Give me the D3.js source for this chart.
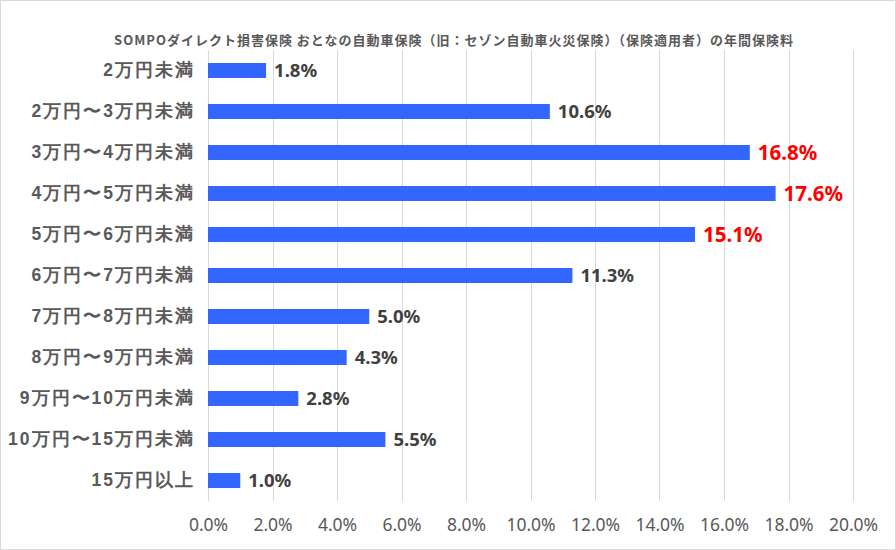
<!DOCTYPE html>
<html>
<head>
<meta charset="utf-8">
<script src="https://cdn.jsdelivr.net/npm/d3@7"></script>
<style>
  body { margin: 0; background: #fff; }
  svg { display: block; font-family: "Noto Sans CJK JP", "Noto Sans", sans-serif; }
</style>
</head>
<body>
<svg id="chart" width="896" height="550"></svg>
<script>
const title = "SOMPOダイレクト損害保険 おとなの自動車保険（旧：セゾン自動車火災保険）（保険適用者）の年間保険料";
const categories = ["2万円未満", "2万円〜3万円未満", "3万円〜4万円未満", "4万円〜5万円未満", "5万円〜6万円未満",
  "6万円〜7万円未満", "7万円〜8万円未満", "8万円〜9万円未満", "9万円〜10万円未満", "10万円〜15万円未満", "15万円以上"];
const values = [1.8, 10.6, 16.8, 17.6, 15.1, 11.3, 5.0, 4.3, 2.8, 5.5, 1.0];
const highlighted = ["3万円〜4万円未満", "4万円〜5万円未満", "5万円〜6万円未満"];
const ticks = [0, 2, 4, 6, 8, 10, 12, 14, 16, 18, 20];

const svg = d3.select("#chart");

// outer frame
svg.append("rect").attr("x", 0.5).attr("y", 0.5).attr("width", 895).attr("height", 549)
  .attr("fill", "#fff").attr("stroke", "#d9d9d9");

const plotLeft = 208, plotRight = 853, plotTop = 50, plotBottom = 501;

const x = d3.scaleLinear().domain([0, 20]).range([plotLeft, plotRight]);
const y = d3.scaleBand().domain(categories).range([plotTop, plotBottom]).paddingInner(0.634).paddingOuter(0.317);

// title
svg.append("text").attr("x", 454).attr("y", 45).attr("text-anchor", "middle")
  .style("font-size", "13px").style("font-weight", "bold").style("letter-spacing", "1px")
  .attr("fill", "#595959")
  .text(title);

// grid
svg.append("g").selectAll("line").data(ticks).join("line")
  .attr("x1", d => Math.round(x(d)) + 0.5).attr("x2", d => Math.round(x(d)) + 0.5)
  .attr("y1", plotTop).attr("y2", plotBottom)
  .attr("stroke", "#d9d9d9").attr("stroke-width", 1);

// x axis labels
const xAxis = d3.axisBottom(x).tickValues(ticks).tickFormat(d => d.toFixed(1) + "%").tickSize(0).tickPadding(0);
const gx = svg.append("g").attr("transform", `translate(0,${plotBottom + 18})`).call(xAxis);
gx.select(".domain").remove();
gx.selectAll("text").style("font-size", "17.5px").style("font-family", "'Noto Sans', sans-serif")
  .attr("fill", "#595959").attr("dy", "0.71em");

// y axis labels
const yAxis = d3.axisLeft(y).tickSize(0).tickPadding(13);
const gy = svg.append("g").attr("transform", `translate(${plotLeft},0)`).call(yAxis);
gy.select(".domain").remove();
gy.selectAll("text").style("font-size", "17.5px").style("font-weight", "bold")
  .style("letter-spacing", "2px").attr("fill", "#595959");

// bars
svg.append("g").selectAll("rect").data(categories).join("rect")
  .attr("x", x(0))
  .attr("y", d => y(d))
  .attr("width", (d, i) => x(values[i]) - x(0))
  .attr("height", y.bandwidth())
  .attr("fill", "#3366ff");

// value labels
svg.append("g").selectAll("text").data(categories).join("text")
  .attr("x", (d, i) => x(values[i]) + 8)
  .attr("y", d => y(d) + y.bandwidth() / 2)
  .attr("dy", "0.36em")
  .style("font-family", "'Noto Sans', sans-serif")
  .style("font-weight", "bold")
  .style("font-size", d => highlighted.includes(d) ? "20.5px" : "18.5px")
  .attr("fill", d => highlighted.includes(d) ? "#ff0000" : "#404040")
  .text((d, i) => values[i].toFixed(1) + "%");
</script>
</body>
</html>
